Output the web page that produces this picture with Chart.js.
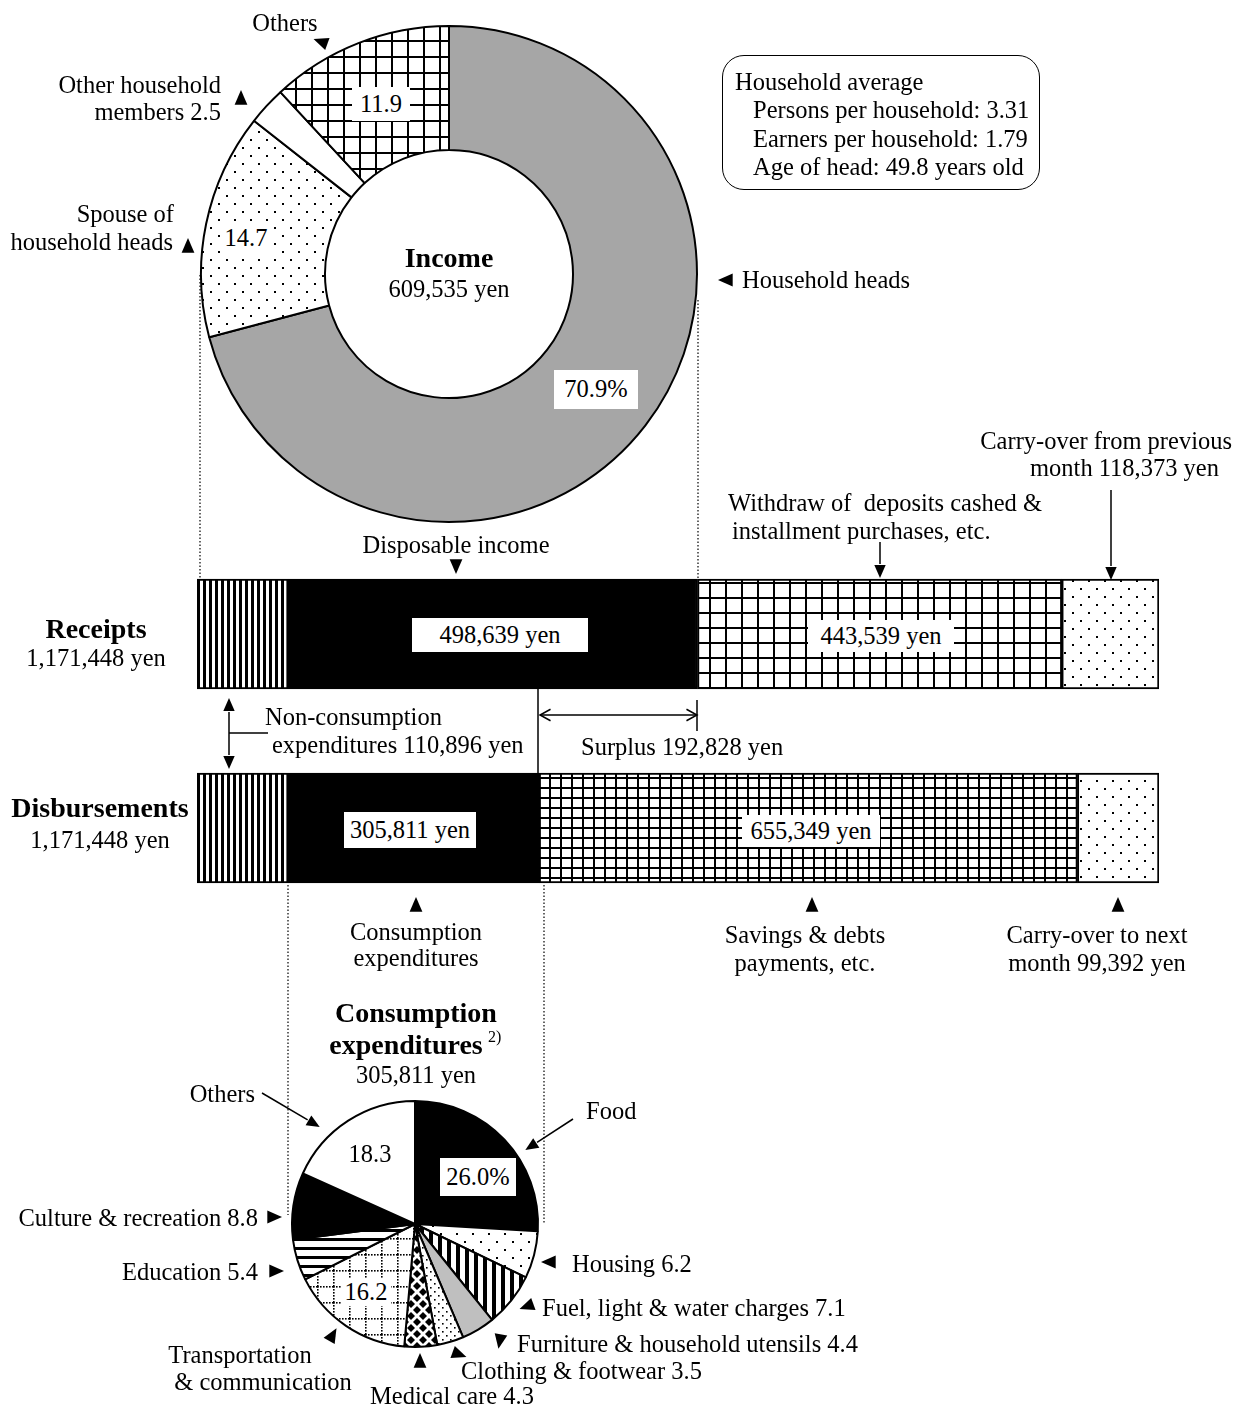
<!DOCTYPE html>
<html>
<head>
<meta charset="utf-8">
<script src="https://cdn.jsdelivr.net/npm/chart.js@4"></script>
<style>
  body {
    margin: 0;
    background: #fff;
  }
  #page {
    position: relative;
    width: 1236px;
    height: 1407px;
    font-family: "Liberation Serif", "Times New Roman", serif;
    font-size: 24.5px;
    color: #000;
  }
  canvas,
  svg {
    position: absolute;
  }
  .t {
    position: absolute;
    white-space: pre;
    line-height: 1;
  }
  .box {
    position: absolute;
    background: #fff;
    display: flex;
    align-items: center;
    justify-content: center;
    line-height: 1;
  }
  #avg {
    position: absolute;
    left: 722px;
    top: 55px;
    width: 316px;
    height: 133px;
    border: 1.5px solid #000;
    border-radius: 22px;
  }
</style>
</head>
<body>
<div id="page">
  <canvas id="incomeChart" width="500" height="500" style="left:199px; top:24px"></canvas>
  <canvas id="flowChart" width="962" height="388" style="left:197px; top:537px"></canvas>
  <canvas id="consumptionChart" width="260" height="260" style="left:285px; top:1094px"></canvas>
  <svg id="marks" width="1236" height="1407" style="left:0; top:0"></svg>
  <div id="avg"></div>
</div>
<script>
// Step 0: data
const incomeLabels = [
  "Household heads",
  "Spouse of household heads",
  "Other household members",
  "Others",
];
const incomeShares = [70.9, 14.7, 2.5, 11.9];
const incomeTotal = 609535;

const flowRows = ["Receipts", "Disbursements"];
const flowTotals = [1171448, 1171448];
// non-consumption, disposable / consumption, withdrawals / savings, carry-over
const receiptsParts = [110896, 498639, 443539, 118373];
const disbursementParts = [110896, 305811, 655349, 99392];

const consumptionLabels = [
  "Food",
  "Housing",
  "Fuel, light & water charges",
  "Furniture & household utensils",
  "Clothing & footwear",
  "Medical care",
  "Transportation & communication",
  "Education",
  "Culture & recreation",
  "Others",
];
const consumptionShares = [26.0, 6.2, 7.1, 4.4, 3.5, 4.3, 16.2, 5.4, 8.8, 18.3];
const consumptionTotal = 305811;

const householdAverage = [
  ["Persons per household", "3.31"],
  ["Earners per household", "1.79"],
  ["Age of head", "49.8 years old"],
];

const fmt = (n) => n.toLocaleString("en-US");

// =========== patterns ============
function makePattern(w, h, draw) {
  const c = document.createElement("canvas");
  c.width = w;
  c.height = h;
  const g = c.getContext("2d");
  g.fillStyle = "#fff";
  g.fillRect(0, 0, w, h);
  g.fillStyle = "#000";
  g.strokeStyle = "#000";
  draw(g, w, h);
  return g.createPattern(c, "repeat");
}

const dots = makePattern(16, 16, (g) => {
  g.fillRect(3, 3, 2, 2);
  g.fillRect(11, 11, 2, 2);
});
const smallDots = makePattern(8, 8, (g) => {
  g.fillRect(1, 1, 1.6, 1.6);
  g.fillRect(5, 5, 1.6, 1.6);
});
const gridBig = makePattern(16, 16, (g) => {
  g.fillRect(0, 0, 16, 2);
  g.fillRect(0, 0, 2, 16);
});
const gridWide = makePattern(16, 15, (g) => {
  g.fillRect(0, 0, 16, 2);
  g.fillRect(0, 0, 2, 15);
});
const gridSmall = makePattern(11, 10, (g) => {
  g.fillRect(0, 0, 11, 2);
  g.fillRect(0, 0, 2, 10);
});
const vStripes = makePattern(6, 6, (g) => {
  g.fillRect(0, 0, 3, 6);
});
const vStripesWide = makePattern(9, 9, (g) => {
  g.fillRect(0, 0, 4, 9);
});
const hStripes = makePattern(9, 9, (g) => {
  g.fillRect(0, 0, 9, 3);
});
const diamonds = makePattern(12, 12, (g) => {
  const d = (cx, cy, r) => {
    g.beginPath();
    g.moveTo(cx, cy - r);
    g.lineTo(cx + r, cy);
    g.lineTo(cx, cy + r);
    g.lineTo(cx - r, cy);
    g.closePath();
    g.fill();
  };
  d(6, 6, 4);
  d(0, 0, 4);
  d(12, 0, 4);
  d(0, 12, 4);
  d(12, 12, 4);
});
const dottedGrid = makePattern(16, 16, (g) => {
  for (let i = 0; i < 16; i += 3) {
    g.fillRect(i, 0, 1.6, 1.6);
    g.fillRect(0, i, 1.6, 1.6);
  }
});

// =========== charts ============
new Chart(document.getElementById("incomeChart"), {
  type: "doughnut",
  data: {
    labels: incomeLabels,
    datasets: [
      {
        data: incomeShares,
        backgroundColor: ["#a6a6a6", dots, "#ffffff", gridBig],
        borderColor: "#000",
        borderWidth: 2,
      },
    ],
  },
  options: {
    responsive: false,
    animation: false,
    radius: 248,
    cutout: "50%",
    plugins: { legend: { display: false }, tooltip: { enabled: false } },
  },
});

const flowPatterns = [
  [vStripes, vStripes],
  ["#000", "#000"],
  [gridWide, gridSmall],
  [dots, dots],
];

new Chart(document.getElementById("flowChart"), {
  type: "bar",
  data: {
    labels: flowRows,
    datasets: receiptsParts.map((value, i) => ({
      data: [value, disbursementParts[i]],
      backgroundColor: flowPatterns[i],
      borderColor: "#000",
      borderWidth: 2,
      borderSkipped: false,
      barThickness: 110,
    })),
  },
  options: {
    indexAxis: "y",
    responsive: false,
    animation: false,
    layout: { padding: 0 },
    scales: {
      x: { stacked: true, display: false, min: 0, max: flowTotals[0] },
      y: { stacked: true, display: false },
    },
    plugins: { legend: { display: false }, tooltip: { enabled: false } },
  },
});

new Chart(document.getElementById("consumptionChart"), {
  type: "pie",
  data: {
    labels: consumptionLabels,
    datasets: [
      {
        data: consumptionShares,
        backgroundColor: [
          "#000",
          dots,
          vStripesWide,
          "#bfbfbf",
          smallDots,
          diamonds,
          dottedGrid,
          hStripes,
          "#000",
          "#fff",
        ],
        borderColor: "#000",
        borderWidth: 2,
      },
    ],
  },
  options: {
    responsive: false,
    animation: false,
    radius: 123,
    plugins: { legend: { display: false }, tooltip: { enabled: false } },
  },
});

// =========== texts ============
const page = document.getElementById("page");

function text(str, x, y, align = "left", style = {}) {
  const el = document.createElement("div");
  el.className = "t";
  el.textContent = str;
  el.style.left = x + "px";
  el.style.top = y + "px";
  const tx = align === "center" ? "-50%" : align === "right" ? "-100%" : "0";
  el.style.transform = `translate(${tx}, -50%)`;
  Object.assign(el.style, style);
  page.appendChild(el);
  return el;
}

function box(str, cx, cy, w, h) {
  const el = document.createElement("div");
  el.className = "box";
  el.textContent = str;
  el.style.left = cx - w / 2 + "px";
  el.style.top = cy - h / 2 + "px";
  el.style.width = w + "px";
  el.style.height = h + "px";
  page.appendChild(el);
}

const bold = { fontWeight: "bold", fontSize: "28px" };

// income doughnut
text(incomeLabels[3], 285, 23, "center");
text("Other household", 221, 85, "right");
text(`members ${incomeShares[2]}`, 221, 112, "right");
text("Spouse of", 174, 214, "right");
text("household heads", 173, 242, "right");
text(incomeLabels[0], 742, 280);
text("Income", 449, 258, "center", bold);
text(`${fmt(incomeTotal)} yen`, 449, 289, "center");
box(`${incomeShares[0].toFixed(1)}%`, 596, 389, 84, 39);
box(`${incomeShares[1]}`, 246, 238, 50, 30);
box(`${incomeShares[3]}`, 381, 104, 58, 34);

text("Household average", 735, 82);
householdAverage.forEach(([k, v], i) => {
  text(`${k}: ${v}`, 753, 110 + i * 28.5);
});

// receipts / disbursements
text("Disposable income", 456, 545, "center");
text("Withdraw of  deposits cashed &", 728, 503);
text("installment purchases, etc.", 732, 531);
text("Carry-over from previous", 1232, 441, "right");
text(`month ${fmt(receiptsParts[3])} yen`, 1219, 468, "right");
text(flowRows[0], 96, 629, "center", bold);
text(`${fmt(flowTotals[0])} yen`, 96, 658, "center");
box(`${fmt(receiptsParts[1])} yen`, 500, 635, 176, 34);
box(`${fmt(receiptsParts[2])} yen`, 881, 636, 146, 32);
text("Non-consumption", 265, 717);
text(`expenditures ${fmt(receiptsParts[0])} yen`, 272, 745);
text(`Surplus ${fmt(receiptsParts[1] - disbursementParts[1])} yen`, 581, 747);
text(flowRows[1], 100, 808, "center", bold);
text(`${fmt(flowTotals[1])} yen`, 100, 840, "center");
box(`${fmt(disbursementParts[1])} yen`, 410, 830, 132, 36);
box(`${fmt(disbursementParts[2])} yen`, 811, 831, 138, 32);
text("Consumption", 416, 932, "center");
text("expenditures", 416, 958, "center");
text("Savings & debts", 805, 935, "center");
text("payments, etc.", 805, 963, "center");
text("Carry-over to next", 1097, 935, "center");
text(`month ${fmt(disbursementParts[3])} yen`, 1097, 963, "center");

// consumption pie
text("Consumption", 416, 1013, "center", bold);
text("expenditures", 406, 1045, "center", bold);
text("2)", 488, 1037, "left", { fontSize: "16px" });
text(`${fmt(consumptionTotal)} yen`, 416, 1075, "center");
text(consumptionLabels[9], 255, 1094, "right");
text(consumptionLabels[0], 586, 1111);
text(`${consumptionShares[9]}`, 370, 1154, "center");
box(`${consumptionShares[0].toFixed(1)}%`, 478, 1177, 76, 38);
box(`${consumptionShares[6]}`, 366, 1292, 50, 28);
text(`${consumptionLabels[8]} ${consumptionShares[8]}`, 258, 1218, "right");
text(`${consumptionLabels[7]} ${consumptionShares[7]}`, 258, 1272, "right");
text("Transportation", 240, 1355, "center");
text("& communication", 263, 1382, "center");
text(`${consumptionLabels[5]} ${consumptionShares[5]}`, 452, 1396, "center");
text(`${consumptionLabels[4]} ${consumptionShares[4]}`, 461, 1371);
text(`${consumptionLabels[3]} ${consumptionShares[3]}`, 517, 1344);
text(`${consumptionLabels[2]} ${consumptionShares[2]}`, 542, 1308);
text(`${consumptionLabels[1]} ${consumptionShares[1]}`, 572, 1264);

// =========== arrows and guide lines ============
const svg = document.getElementById("marks");
const NS = "http://www.w3.org/2000/svg";

function add(tag, attrs) {
  const el = document.createElementNS(NS, tag);
  Object.keys(attrs).forEach((k) => el.setAttribute(k, attrs[k]));
  svg.appendChild(el);
  return el;
}

function line(x1, y1, x2, y2, extra = {}) {
  return add("line", {
    x1, y1, x2, y2,
    stroke: "#000",
    "stroke-width": 1.5,
    ...extra,
  });
}

function tri(x, y, deg, size = 9) {
  const a = (deg * Math.PI) / 180;
  const p = (ang, r) =>
    `${x + r * Math.cos(ang)},${y + r * Math.sin(ang)}`;
  add("polygon", {
    points: [p(a, size), p(a + 2.3, size * 0.95), p(a - 2.3, size * 0.95)].join(" "),
    fill: "#000",
  });
}

// filled-head arrow ending at (x2, y2)
function arrow(x1, y1, x2, y2) {
  const ang = Math.atan2(y2 - y1, x2 - x1);
  const back = 12;
  line(x1, y1, x2 - back * Math.cos(ang), y2 - back * Math.sin(ang));
  tri(x2 - 6 * Math.cos(ang), y2 - 6 * Math.sin(ang), (ang * 180) / Math.PI, 8);
}

// open-head (V) arrow tip
function openHead(x, y, deg) {
  const a = (deg * Math.PI) / 180;
  const l = 12;
  const pts = [
    [x - l * Math.cos(a - 0.5), y - l * Math.sin(a - 0.5)],
    [x, y],
    [x - l * Math.cos(a + 0.5), y - l * Math.sin(a + 0.5)],
  ];
  add("polyline", {
    points: pts.map((p) => p.join(",")).join(" "),
    fill: "none",
    stroke: "#000",
    "stroke-width": 1.5,
  });
}

const dotted = { "stroke-dasharray": "1.5 2", "stroke-width": 1.2 };
line(200, 275, 200, 580, dotted);
line(698, 300, 698, 580, dotted);
line(288, 885, 288, 1215, dotted);
line(544, 885, 544, 1223, dotted);

// doughnut pointers
tri(322, 42, 200);
tri(241, 99, 270);
tri(188, 247, 270);
tri(727, 280, 180);
tri(456, 565, 90);

// receipt pointers
arrow(880, 542, 880, 576);
arrow(1111, 490, 1111, 578);

// non-consumption double arrow
arrow(229, 733, 229, 700);
arrow(229, 733, 229, 767);
line(229, 733, 268, 733);

// surplus
line(538, 689, 538, 773);
line(540, 715, 697, 715);
openHead(540, 715, 180);
openHead(697, 715, 0);
line(697, 700, 697, 731);

// disbursement pointers
tri(416, 906, 270);
tri(812, 906, 270);
tri(1118, 906, 270);

// pie pointers
arrow(262, 1093, 318, 1126);
arrow(573, 1119, 527, 1149);
tri(273, 1217, 0);
tri(275, 1271, 0);
tri(332, 1336, -60);
tri(420, 1362, 270);
tri(458, 1354, 20);
tri(500, 1340, 100);
tri(528, 1306, 160);
tri(550, 1262, 180);
</script>
</body>
</html>
